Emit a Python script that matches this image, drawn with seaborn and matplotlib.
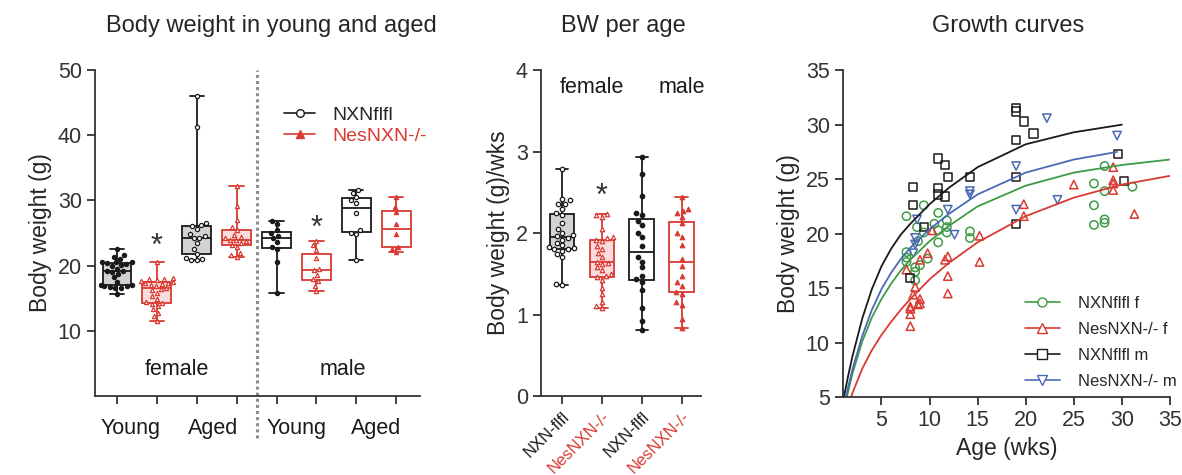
import numpy as np
import pandas as pd
import matplotlib
matplotlib.use("Agg")
import matplotlib.pyplot as plt
from matplotlib.lines import Line2D
import seaborn as sns

# ---- colours
BLACK = "#1a1a1a"
RED = "#d93a32"
GREEN = "#3f9b45"
BLUE = "#4a6ab3"
GREY_FILL = "#d2d2d2"
PINK_FILL = "#fbdcdc"

# ---- panel 1: body weight in young and aged (g)
bw_groups = ["FY_NXN", "FY_Nes", "FA_NXN", "FA_Nes", "MY_NXN", "MY_Nes", "MA_NXN", "MA_Nes"]
fy_nxn = [15.7, 16.5, 16.6, 16.7, 16.8, 16.9, 17.0, 17.0, 17.5, 18.2, 18.7, 19.0, 19.2,
          19.2, 19.5, 19.9, 20.1, 20.3, 20.4, 20.5, 20.5, 20.6, 21.0, 21.3, 21.6, 22.6]
fy_nes = [11.5, 12.2, 12.8, 13.3, 13.8, 14.1, 14.3, 14.4, 14.9, 15.3, 15.8, 16.2, 16.4,
          16.6, 16.9, 17.1, 17.2, 17.3, 17.4, 17.5, 17.6, 17.8, 17.9, 18.0, 18.1, 20.5]
fa_nxn = [20.8, 20.9, 21.0, 21.2, 21.8, 22.5, 23.5, 24.2, 24.3, 24.5, 24.8, 25.6, 26.0,
          26.2, 26.5, 41.3, 46.0]
fa_nes = [21.3, 21.6, 22.0, 22.8, 23.2, 23.4, 23.7, 23.9, 24.0, 24.2, 24.4, 24.7, 25.5,
          25.9, 27.0, 29.2, 32.2]
my_nxn = [15.8, 20.6, 22.5, 22.9, 23.6, 24.2, 24.5, 25.0, 25.4, 26.4, 26.8]
my_nes = [16.1, 16.9, 17.6, 18.0, 18.6, 19.3, 19.5, 21.2, 22.4, 23.1, 23.8]
ma_nxn = [20.8, 24.8, 25.0, 25.4, 28.0, 29.6, 30.0, 30.5, 31.2, 31.6]
ma_nes = [22.1, 22.6, 22.9, 24.8, 26.4, 28.2, 29.0, 30.5]
bw_values = [fy_nxn, fy_nes, fa_nxn, fa_nes, my_nxn, my_nes, ma_nxn, ma_nes]
bw_ticklabels = ["Young", "Aged", "Young", "Aged"]
bw_stars = [(1, 24.5), (5, 27.3)]

# ---- panel 2: body weight per age (g/wks)
bwa_groups = ["F_NXN", "F_Nes", "M_NXN", "M_Nes"]
bwa_f_nxn = [1.36, 1.38, 1.70, 1.74, 1.78, 1.80, 1.80, 1.82, 1.83, 1.85, 1.88, 1.92, 1.94,
             1.96, 1.98, 2.00, 2.05, 2.12, 2.22, 2.24, 2.30, 2.35, 2.36, 2.40, 2.42, 2.79]
bwa_f_nes = [1.08, 1.10, 1.15, 1.25, 1.32, 1.42, 1.46, 1.47, 1.50, 1.55, 1.58, 1.62, 1.63,
             1.65, 1.70, 1.75, 1.80, 1.84, 1.90, 1.92, 1.94, 1.95, 2.05, 2.20, 2.22, 2.23]
bwa_m_nxn = [0.81, 0.92, 1.08, 1.30, 1.40, 1.43, 1.47, 1.58, 1.65, 1.70, 1.84, 1.95, 2.00,
             2.10, 2.15, 2.22, 2.25, 2.45, 2.73, 2.93]
bwa_m_nes = [0.83, 0.95, 1.12, 1.15, 1.25, 1.28, 1.35, 1.40, 1.47, 1.60, 1.68, 1.85, 1.95,
             2.00, 2.12, 2.20, 2.25, 2.27, 2.30, 2.44]
bwa_values = [bwa_f_nxn, bwa_f_nes, bwa_m_nxn, bwa_m_nes]
bwa_ticklabels = ["NXN-flfl", "NesNXN-/-", "NXN-flfl", "NesNXN-/-"]
bwa_stars = [(1, 2.57)]

# ---- panel 3: growth curves
nxn_f_age = [7.6, 7.6, 7.6, 7.6, 8.7, 9.4, 8.8, 9.4, 8.5, 8.5, 9.0, 8.5, 9.8, 10.5, 10.9,
             10.9, 10.9, 11.8, 11.8, 11.8, 14.2, 14.2, 27.1, 28.2, 27.1, 27.1, 28.2, 28.2,
             28.2, 31.1]
nxn_f_bw = [21.6, 18.3, 17.8, 17.4, 20.6, 22.6, 19.3, 20.1, 16.9, 16.5, 17.1, 15.7, 17.7,
            20.9, 21.9, 19.2, 20.3, 21.2, 20.1, 20.6, 20.2, 19.6, 24.6, 26.2, 22.6, 20.8,
            21.3, 21.0, 23.9, 24.3]
nes_f_age = [7.6, 8.0, 8.0, 8.0, 8.0, 8.3, 8.5, 9.0, 9.0, 8.8, 9.0, 9.8, 10.3, 11.6, 11.9,
             11.9, 11.9, 15.2, 15.2, 19.8, 19.8, 25.0, 29.1, 29.1, 29.1, 29.1, 31.3]
nes_f_bw = [16.7, 13.3, 13.1, 12.6, 11.5, 14.4, 15.1, 14.0, 13.6, 13.5, 17.6, 18.2, 20.3,
            17.6, 17.9, 16.1, 14.5, 17.4, 19.8, 22.7, 21.6, 24.5, 26.1, 24.9, 24.6, 24.0,
            21.8]
nxn_m_age = [8.3, 8.3, 8.0, 9.4, 10.9, 11.6, 11.9, 10.9, 10.9, 11.6, 14.2, 19.0, 19.0, 19.8,
             20.8, 19.0, 19.0, 19.0, 29.6, 30.2]
nxn_m_bw = [24.3, 22.6, 15.9, 20.6, 26.9, 26.3, 25.2, 24.2, 23.6, 23.4, 25.2, 31.5, 31.2,
            30.3, 29.2, 28.6, 25.2, 20.9, 27.3, 24.85]
nes_m_age = [8.7, 8.5, 8.5, 8.3, 11.9, 12.6, 14.2, 14.2, 19.0, 19.0, 22.2, 23.3, 29.5]
nes_m_bw = [21.3, 19.6, 19.0, 18.2, 22.2, 19.9, 23.9, 23.6, 26.2, 22.2, 30.6, 23.1, 29.0]

# fitted growth curves
fit_nxn_m_x = [1.1, 1.5, 2, 3, 4, 5, 6, 7, 8, 10, 12, 15, 20, 25, 30]
fit_nxn_m_y = [5.0, 6.8, 8.8, 12.2, 14.9, 17.0, 18.6, 19.9, 20.9, 22.7, 24.2, 26.1, 28.2,
               29.3, 30.0]
fit_nes_m_x = [1.3, 1.5, 2, 3, 4, 5, 6, 7, 8, 10, 12, 15, 20, 25, 29.5]
fit_nes_m_y = [5.0, 5.8, 7.6, 10.6, 13.0, 14.9, 16.4, 17.65, 18.7, 20.4, 21.8, 23.6, 25.6,
               26.8, 27.5]
fit_nxn_f_x = [1.4, 2, 3, 4, 5, 6, 7, 8, 10, 12, 15, 20, 25, 30, 35]
fit_nxn_f_y = [5.0, 7.2, 10.1, 12.3, 14.0, 15.4, 16.6, 17.6, 19.3, 20.7, 22.5, 24.4, 25.6,
               26.3, 26.8]
fit_nes_f_x = [1.85, 2, 3, 4, 5, 6, 7, 8, 10, 12, 15, 20, 25, 30, 35]
fit_nes_f_y = [5.0, 5.4, 7.6, 9.3, 10.7, 11.9, 13.0, 14.0, 15.8, 17.3, 19.2, 21.6, 23.3,
               24.5, 25.3]

sns.set_style("ticks")
plt.rcParams["font.family"] = ["Liberation Sans", "DejaVu Sans"]
plt.rcParams["axes.linewidth"] = 1.3
plt.rcParams["axes.edgecolor"] = "#333333"
plt.rcParams["xtick.major.width"] = 1.3
plt.rcParams["ytick.major.width"] = 1.3
plt.rcParams["xtick.major.size"] = 6
plt.rcParams["ytick.major.size"] = 6
plt.rcParams["xtick.color"] = "#333333"
plt.rcParams["ytick.color"] = "#333333"

TICK_FS = 15.5
LABEL_FS = 16.5

fig = plt.figure(figsize=(11.82, 4.75), dpi=100)
ax1 = fig.add_axes([0.0804, 0.1663, 0.275, 0.6863])
ax2 = fig.add_axes([0.4577, 0.1663, 0.1354, 0.6863])
ax3 = fig.add_axes([0.7132, 0.1642, 0.2766, 0.688])

# box style per group: (fill, line colour, marker, marker face, marker edge)
bw_style = {
    "FY_NXN": (GREY_FILL, BLACK, "o", BLACK, BLACK),
    "FY_Nes": (PINK_FILL, RED, "^", "white", RED),
    "FA_NXN": (GREY_FILL, BLACK, "o", "white", BLACK),
    "FA_Nes": (PINK_FILL, RED, "^", "white", RED),
    "MY_NXN": ("white", BLACK, "o", BLACK, BLACK),
    "MY_Nes": ("white", RED, "^", "white", RED),
    "MA_NXN": ("white", BLACK, "o", "white", BLACK),
    "MA_Nes": ("white", RED, "^", RED, RED),
}
bwa_style = {
    "F_NXN": (GREY_FILL, BLACK, "o", "white", BLACK),
    "F_Nes": (PINK_FILL, RED, "^", "white", RED),
    "M_NXN": ("white", BLACK, "o", BLACK, BLACK),
    "M_Nes": ("white", RED, "^", RED, RED),
}


def box_panel(ax, groups, values, style, width, pt_size):
    df = pd.DataFrame({
        "grp": np.repeat(groups, [len(v) for v in values]),
        "val": np.concatenate(values),
    })
    for g in groups:
        fill, line, mk, mfc, mec = style[g]
        sub = df[df["grp"] == g]
        sns.boxplot(data=sub, x="grp", y="val", order=groups, ax=ax, color=fill,
                    linecolor=line, linewidth=1.3, width=width, whis=(0, 100),
                    saturation=1, showfliers=False)
        sns.swarmplot(data=sub, x="grp", y="val", order=groups, ax=ax, marker=mk,
                      color=mfc, edgecolor=mec, linewidth=0.9, size=pt_size)
    ax.set_xlabel("")
    sns.despine(ax=ax)


# ---- panel 1
box_panel(ax1, bw_groups, bw_values, bw_style, 0.72, 3.0)
ax1.set_xlim(-0.55, 7.6)
ax1.set_ylim(0, 50)
ax1.set_yticks([10, 20, 30, 40, 50])
ax1.set_xticks(range(8))
ax1.set_xticklabels([])
ax1.set_ylabel("Body weight (g)", fontsize=LABEL_FS)
ax1.tick_params(axis="y", labelsize=TICK_FS)
for pos, lab in zip([0.35, 2.4, 4.5, 6.5], bw_ticklabels):
    ax1.text(pos, -0.1, lab, transform=ax1.get_xaxis_transform(), ha="center",
             va="center", fontsize=TICK_FS, color=BLACK)
ax1.plot([3.5, 3.5], [-0.13, 1.0], transform=ax1.get_xaxis_transform(), clip_on=False,
         color="#8c8c8c", linestyle=(0, (1, 1)), linewidth=2.2)
ax1.text(1.5, 4.0, "female", ha="center", va="center", fontsize=TICK_FS, color=BLACK)
ax1.text(5.67, 4.0, "male", ha="center", va="center", fontsize=TICK_FS, color=BLACK)
for sx, sy in bw_stars:
    ax1.text(sx, sy - 1.6, "*", ha="center", va="center", fontsize=22, color="#333333")
h1 = [Line2D([0], [0], color=BLACK, lw=1.2, marker="o", ms=5.5, mfc="white", mec=BLACK),
      Line2D([0], [0], color=RED, lw=1.2, marker="^", ms=5.5, mfc=RED, mec=RED)]
leg1 = ax1.legend(h1, ["NXNflfl", "NesNXN-/-"], loc="upper left",
                  bbox_to_anchor=(0.54, 0.93), frameon=False, fontsize=14,
                  handlelength=1.6, handletextpad=0.9, labelspacing=0.15,
                  borderpad=0.2)
leg1.get_texts()[1].set_color(RED)

# ---- panel 2
box_panel(ax2, bwa_groups, bwa_values, bwa_style, 0.62, 3.2)
ax2.set_xlim(-0.53, 3.49)
ax2.set_ylim(0, 4)
ax2.set_yticks([0, 1, 2, 3, 4])
ax2.set_xticks(range(4))
ax2.set_xticklabels(bwa_ticklabels, rotation=45, ha="right", rotation_mode="anchor",
                    fontsize=12)
for lab, col in zip(ax2.get_xticklabels(), [BLACK, RED, BLACK, RED]):
    lab.set_color(col)
ax2.set_ylabel("Body weight (g)/wks", fontsize=LABEL_FS)
ax2.tick_params(axis="y", labelsize=TICK_FS)
ax2.text(0.75, 3.78, "female", ha="center", va="center", fontsize=TICK_FS, color=BLACK)
ax2.text(3.0, 3.78, "male", ha="center", va="center", fontsize=TICK_FS, color=BLACK)
for sx, sy in bwa_stars:
    ax2.text(sx, sy - 0.13, "*", ha="center", va="center", fontsize=22, color="#333333")

# ---- panel 3
scatter_sets = [
    (nxn_f_age, nxn_f_bw, GREEN, "o", fit_nxn_f_x, fit_nxn_f_y),
    (nes_f_age, nes_f_bw, RED, "^", fit_nes_f_x, fit_nes_f_y),
    (nxn_m_age, nxn_m_bw, BLACK, "s", fit_nxn_m_x, fit_nxn_m_y),
    (nes_m_age, nes_m_bw, BLUE, "v", fit_nes_m_x, fit_nes_m_y),
]
for ages, bws, col, mk, fx, fy in scatter_sets:
    sns.lineplot(x=fx, y=fy, ax=ax3, color=col, linewidth=1.3)
    sns.scatterplot(x=ages, y=bws, ax=ax3, marker=mk, s=36, facecolor="none",
                    edgecolor=col, linewidth=1.1)
ax3.set_xlim(1, 35)
ax3.set_ylim(5, 35)
ax3.set_xticks([5, 10, 15, 20, 25, 30, 35])
ax3.set_yticks([5, 10, 15, 20, 25, 30, 35])
ax3.tick_params(labelsize=TICK_FS)
ax3.set_xlabel("Age (wks)", fontsize=LABEL_FS)
ax3.set_ylabel("Body weight (g)", fontsize=LABEL_FS)
sns.despine(ax=ax3)
h3 = [Line2D([0], [0], color=c, lw=1.2, marker=m, ms=6.5, mfc="white", mec=c)
      for c, m in [(GREEN, "o"), (RED, "^"), (BLACK, "s"), (BLUE, "v")]]
ax3.legend(h3, ["NXNflfl f", "NesNXN-/- f", "NXNflfl m", "NesNXN-/- m"],
           loc="lower left", bbox_to_anchor=(0.52, -0.01), frameon=False,
           fontsize=12, handlelength=2.1, handletextpad=1.1, labelspacing=0.65,
           borderpad=0.2)

# ---- panel titles
fig.text(0.23, 0.945, "Body weight in young and aged", ha="center", va="center", fontsize=17)
fig.text(0.527, 0.945, "BW per age", ha="center", va="center", fontsize=17)
fig.text(0.853, 0.945, "Growth curves", ha="center", va="center", fontsize=17)

fig.savefig("out.png", dpi=100, facecolor="white")
